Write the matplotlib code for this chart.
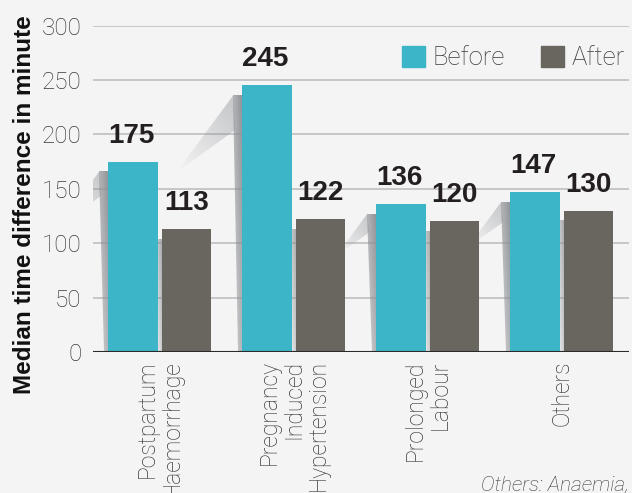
import matplotlib.pyplot as plt
import matplotlib as mtpl
import numpy as np
from matplotlib.patches import Polygon, Patch

# data
categories = ["Postpartum\nHaemorrhage", "Pregnancy\nInduced\nHypertension", "Prolonged\nLabour", "Others"]
before = [175, 245, 136, 147]
after = [113, 122, 120, 130]
yticks = [0, 50, 100, 150, 200, 250, 300]

c_before = "#3cb5c8"
c_after = "#69655f"
bg = "#f4f4f4"

mtpl.rcParams['font.family'] = ['Roboto', 'DejaVu Sans']

fig = plt.figure(figsize=(6.32, 4.93), dpi=100, facecolor=bg)
ax = fig.add_axes([0.147, 0.286, 0.848, 0.662], facecolor=bg)

x = np.arange(len(categories))
off = 0.2
w = 0.37

# px -> data scale factors
px_x = 1 / 134.0
px_y = 1 / 1.086


def gradient_poly(ax, verts, rgb, a0, a1, zorder=1.5):
    '''Fill polygon with alpha gradient running from top-right (a0) to bottom-left (a1).'''
    verts = np.array(verts)
    x0, x1 = verts[:, 0].min(), verts[:, 0].max()
    y0, y1 = verts[:, 1].min(), verts[:, 1].max()
    n = 60
    u = np.linspace(0, 1, n)
    U, V = np.meshgrid(u, u)  # U: left->right, V: bottom->top
    t = (U + V) / 2
    img = np.zeros((n, n, 4))
    img[..., :3] = mtpl.colors.to_rgb(rgb)
    img[..., 3] = a1 + (a0 - a1) * t
    poly = Polygon(verts, closed=True, facecolor='none', edgecolor='none')
    ax.add_patch(poly)
    im = ax.imshow(img, extent=[x0, x1, y0, y1], origin='lower', aspect='auto',
                   zorder=zorder, interpolation='bilinear')
    im.set_clip_path(poly)


# grid
for yv in yticks[1:]:
    ax.axhline(yv, color="#c6c6c8", lw=1.4, zorder=1)
ax.axhline(0, color="#2a2a2a", lw=1.5, zorder=4)

# shadows behind the bars
for i in range(len(categories)):
    L = x[i] - off - w / 2
    top = before[i] - 9
    dy = 0.3 * top
    dx = dy / px_y / 1.35 * px_x
    # curled wedge
    gradient_poly(ax, [(L - 9 * px_x, top), (L - 9 * px_x - dx, top - dy),
                       (L - 7 * px_x, top - 0.45 * dy)], "#8a8d92", 0.45, 0.0)
    # vertical strip
    gradient_poly(ax, [(L - 9 * px_x, top), (L, top), (L, 0), (L - 4 * px_x, 0)],
                  "#8c8f93", 0.95, 0.3, zorder=1.6)
    # gap shadow for the After bar
    g0 = x[i] - off + w / 2
    gradient_poly(ax, [(g0, after[i] - 9), (x[i] + off - w / 2, after[i] - 9),
                       (x[i] + off - w / 2, 0), (g0, 0)], "#8c8f93", 0.8, 0.15, zorder=1.6)

ax.bar(x - off, before, w, color=c_before, zorder=3, label="Before")
ax.bar(x + off, after, w, color=c_after, zorder=3, label="After")

for i in range(len(categories)):
    ax.annotate(str(before[i]), (x[i] - off, before[i]), xytext=(-2, 13), textcoords='offset pixels',
                ha='center', va='bottom', fontsize=20, fontweight='bold',
                family='Liberation Sans', color="#231f20")
    ax.annotate(str(after[i]), (x[i] + off, after[i]), xytext=(0, 13), textcoords='offset pixels',
                ha='center', va='bottom', fontsize=20, fontweight='bold',
                family='Liberation Sans', color="#231f20")

ax.set_xlim(-0.5, 3.5)
ax.set_ylim(0, 300)
ax.set_yticks(yticks)
ax.set_yticklabels([str(v) for v in yticks], fontsize=17.5, fontweight='light', color="#3a3a3a")
ax.set_xticks(x)
ax.set_xticklabels(categories, rotation=90, fontsize=16.5, fontweight='light', color="#3a3a3a",
                   multialignment='right', linespacing=1.1)
ax.tick_params(axis='both', length=0)
ax.tick_params(axis='y', pad=8)
ax.tick_params(axis='x', pad=6)
for s in ax.spines.values():
    s.set_visible(False)

handles = [Patch(color=c_before, label="Before"), Patch(color=c_after, label="After")]
leg = ax.legend(handles=handles, loc='upper right', bbox_to_anchor=(1.012, 0.97), ncol=2,
                frameon=False, handlelength=0.9, handleheight=0.9, handletextpad=0.3,
                columnspacing=1.4, borderaxespad=0, prop={'size': 18.5, 'weight': 'light'})
for t in leg.get_texts():
    t.set_color("#3a3a3a")

fig.text(0.038, 0.585, "Median time difference in minute", rotation=90, ha='center', va='center',
         fontsize=17.5, fontweight='bold', family='Liberation Sans', color="#111111")

fig.text(0.995, 1 - 476 / 493, "Others: Anaemia,", ha='right', va='top', fontsize=15,
         fontweight='light', style='italic', color="#3a3a3a")

fig.savefig("out.png", dpi=100, facecolor=bg)
